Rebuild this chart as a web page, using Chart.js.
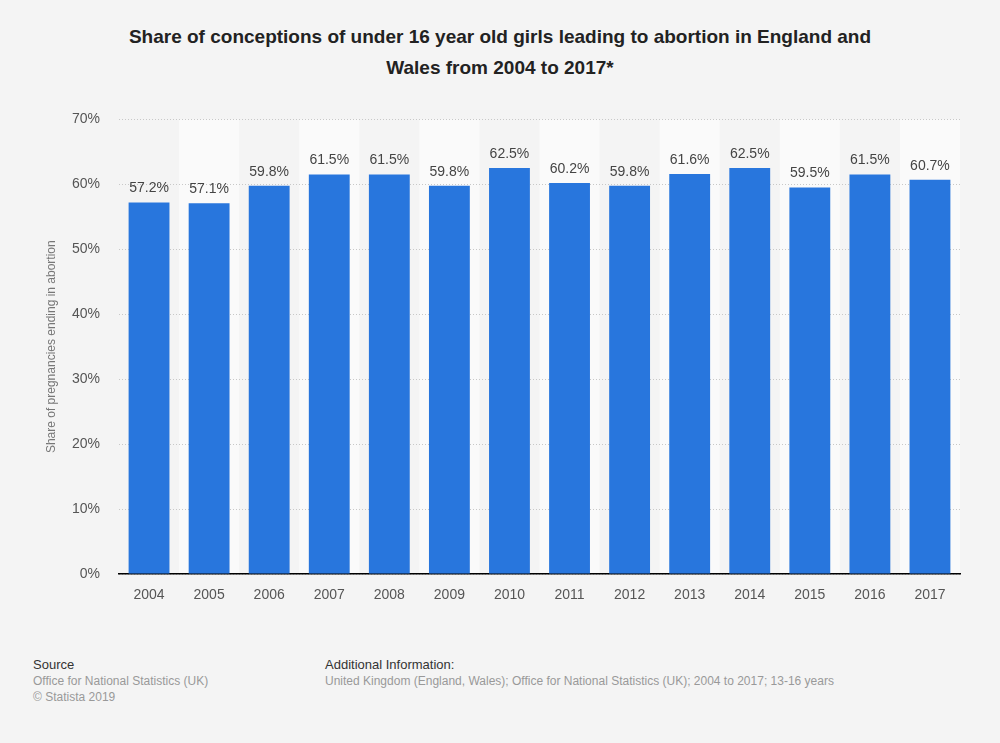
<!DOCTYPE html>
<html>
<head>
<meta charset="utf-8">
<script src="https://cdn.jsdelivr.net/npm/chart.js@4.4.0/dist/chart.umd.min.js"></script>
<style>
  html, body { margin: 0; padding: 0; background: #f4f4f4; width: 1000px; height: 743px; overflow: hidden; font-family: "Liberation Sans", Arial, sans-serif; }
  #titulo { position: absolute; left: 60px; width: 880px; top: 21px; text-align: center; font-weight: bold; font-size: 19px; line-height: 31px; color: #222; }
  #caixa { position: absolute; left: 30px; top: 92px; width: 940px; height: 513px; }
  .rodape { position: absolute; top: 657px; font-size: 12px; line-height: 16px; color: #999; }
  .rodape b { font-weight: normal; color: #333; font-size: 13px; }
</style>
</head>
<body>
<div id="titulo">Share of conceptions of under 16 year old girls leading to abortion in England and<br>Wales from 2004 to 2017*</div>
<div id="caixa"><canvas id="grafico"></canvas></div>
<div class="rodape" style="left:33px"><b>Source</b><br>Office for National Statistics (UK)<br>© Statista 2019</div>
<div class="rodape" style="left:325px"><b>Additional Information:</b><br>United Kingdom (England, Wales); Office for National Statistics (UK); 2004 to 2017; 13-16 years</div>
<script>
// Dados
const anos = ['2004', '2005', '2006', '2007', '2008', '2009', '2010', '2011', '2012', '2013', '2014', '2015', '2016', '2017'];
const percentuais = [57.2, 57.1, 59.8, 61.5, 61.5, 59.8, 62.5, 60.2, 59.8, 61.6, 62.5, 59.5, 61.5, 60.7];
const ticksY = [0, 10, 20, 30, 40, 50, 60, 70];

// Faixas alternadas atrás das barras
const faixas = {
  id: 'faixas',
  beforeDraw(chart) {
    const { ctx, chartArea, scales } = chart;
    const x = scales.x;
    const largura = x.getPixelForValue(1) - x.getPixelForValue(0);
    ctx.save();
    ctx.fillStyle = '#fafafa';
    for (let i = 1; i < anos.length; i += 2) {
      const c = x.getPixelForValue(i);
      ctx.fillRect(c - largura / 2, chartArea.top, largura, chartArea.bottom - chartArea.top);
    }
    ctx.restore();
  }
};

// Rótulos acima das barras
const rotulos = {
  id: 'rotulos',
  afterDatasetsDraw(chart) {
    const { ctx } = chart;
    const meta = chart.getDatasetMeta(0);
    ctx.save();
    ctx.font = '14px "Liberation Sans", Arial, sans-serif';
    ctx.fillStyle = '#444';
    ctx.textAlign = 'center';
    ctx.textBaseline = 'bottom';
    meta.data.forEach((bar, i) => {
      ctx.fillText(percentuais[i].toFixed(1) + '%', bar.x, bar.y - 7);
    });
    ctx.restore();
  }
};

new Chart(document.getElementById('grafico'), {
  type: 'bar',
  data: {
    labels: anos,
    datasets: [{
      data: percentuais,
      backgroundColor: '#2876dd',
      barPercentage: 0.68,
      categoryPercentage: 1
    }]
  },
  options: {
    responsive: true,
    maintainAspectRatio: false,
    animation: false,
    layout: { padding: { top: 1, right: 10, left: 14, bottom: 0 } },
    plugins: { legend: { display: false }, tooltip: { enabled: false } },
    scales: {
      x: {
        grid: { display: false },
        border: { color: '#000', width: 1.5 },
        ticks: { color: '#555', font: { size: 14, family: '"Liberation Sans", Arial, sans-serif' }, padding: 5 },
        afterFit: s => { s.height = 31; }
      },
      y: {
        min: 0,
        max: 70,
        afterBuildTicks: s => { s.ticks = ticksY.map(v => ({ value: v })); },
        grid: { color: '#c8c8c8', lineWidth: 1, drawTicks: false },
        border: { display: false, dash: [1, 2] },
        ticks: { color: '#555', padding: 19, font: { size: 14, family: '"Liberation Sans", Arial, sans-serif' }, callback: v => v + '%' },
        title: { display: true, text: 'Share of pregnancies ending in abortion', color: '#777', font: { size: 12, family: '"Liberation Sans", Arial, sans-serif' }, padding: 0 },
        afterFit: s => { s.width = 75; }
      }
    }
  },
  plugins: [faixas, rotulos]
});
</script>
</body>
</html>
